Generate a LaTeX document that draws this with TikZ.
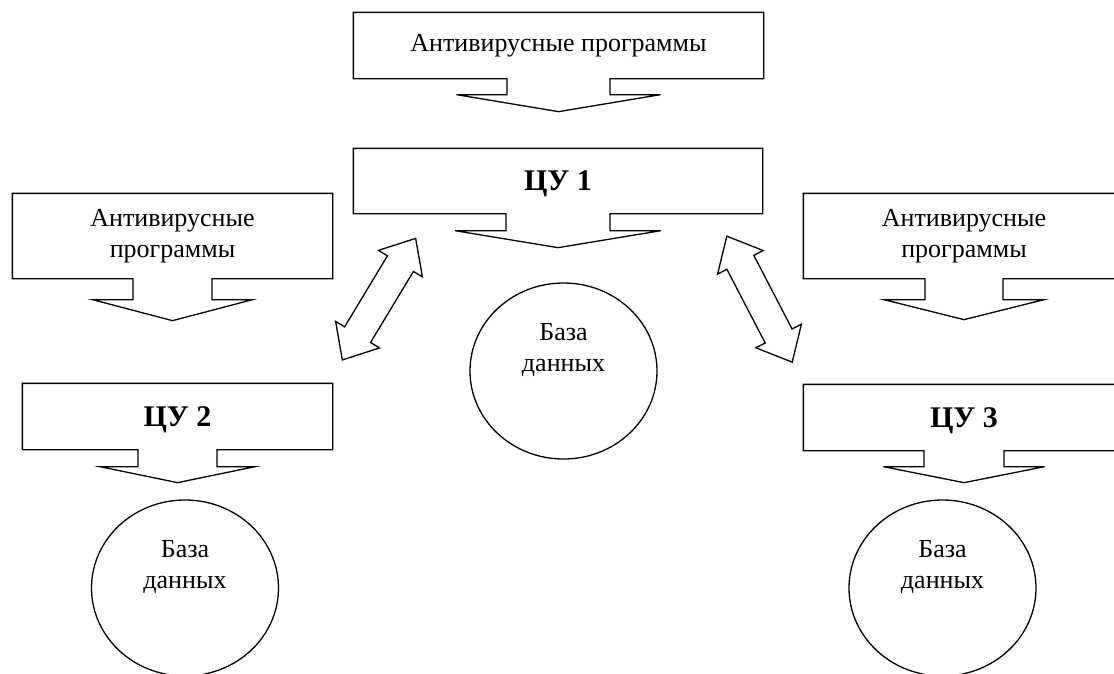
\documentclass[tikz,border=0pt]{standalone}
\usepackage{fontspec}
\setmainfont{Liberation Serif}
\usepackage{tikz}
\usetikzlibrary{calc,shapes.geometric,shapes.arrows}
\tikzset{every node/.style={font=\fontsize{26}{31}\selectfont}}

% box outline with an open arrow below it:
% node, half tab, half wing, tab depth, tip depth
\newcommand{\callbox}[5]{%
  \draw (#1.north west) -- (#1.north east) -- (#1.south east)
    -- ($(#1.south)+(#2,0)$) -- ++(0,#4) -- ($(#1.south)+(#3,#4)$)
    -- ($(#1.south)+(0,#5)$) -- ($(#1.south)+(-#3,#4)$)
    -- ($(#1.south)+(-#2,#4)$) -- ++(0,-#4) -- (#1.south west) -- cycle;}

\begin{document}
\begin{tikzpicture}[x=1pt,y=-1pt,line width=1.3pt,line join=miter]
  \tikzset{box/.style={rectangle,draw=none,inner sep=0pt,align=center},
           cu/.style={box,font=\fontsize{30}{34}\selectfont\bfseries,text depth=0pt},
           db/.style={ellipse,draw,inner sep=0pt,minimum width=187,minimum height=176},
           dbtext/.style={align=center,yshift=21},
           link/.style={double arrow,draw,sloped,inner xsep=0pt,inner ysep=14.5pt,
                        minimum height=142,double arrow head extend=10.5pt,
                        double arrow tip angle=82}}
  \useasboundingbox (0,0) rectangle (1114,673);
  \clip (0,0) rectangle (1114,673);

  \node[box,minimum width=409,minimum height=65] (av1) at (558.5,45.5) {Антивирусные программы};
  \node[cu,minimum width=408,minimum height=64]  (cu1) at (558,181)    {ЦУ 1};
  \node[box,minimum width=319,minimum height=84] (av2) at (172.5,236)  {Антивирусные\\программы};
  \node[cu,minimum width=309,minimum height=65]  (cu2) at (177.5,416.5) {ЦУ 2};
  \node[box,minimum width=320,minimum height=84] (av3) at (964,236)    {Антивирусные\\программы};
  \node[cu,minimum width=320,minimum height=65]  (cu3) at (964,417.5)  {ЦУ 3};

  \callbox{av1}{51.5}{102}{16}{33}
  \callbox{cu1}{52}{103}{17}{34}
  \callbox{av2}{39.5}{80}{21}{42}
  \callbox{cu2}{39.5}{77.5}{17}{33}
  \callbox{av3}{39}{80}{21}{41}
  \callbox{cu3}{40}{80.5}{16}{32}

  \node[db,label={[dbtext]center:База\\данных}] (db1) at (563.5,371) {};
  \node[db,label={[dbtext]center:База\\данных}] (db2) at (185,588)   {};
  \node[db,label={[dbtext]center:База\\данных}] (db3) at (942.5,588) {};

  % links between the centres
  \coordinate (l1) at (415.7,238.3);
  \coordinate (l2) at (342.3,360);
  \coordinate (r1) at (726.7,236);
  \coordinate (r2) at (792.3,362.3);
  \path (l2) -- node[link] {} (l1);
  \path (r1) -- node[link] {} (r2);
\end{tikzpicture}
\end{document}
